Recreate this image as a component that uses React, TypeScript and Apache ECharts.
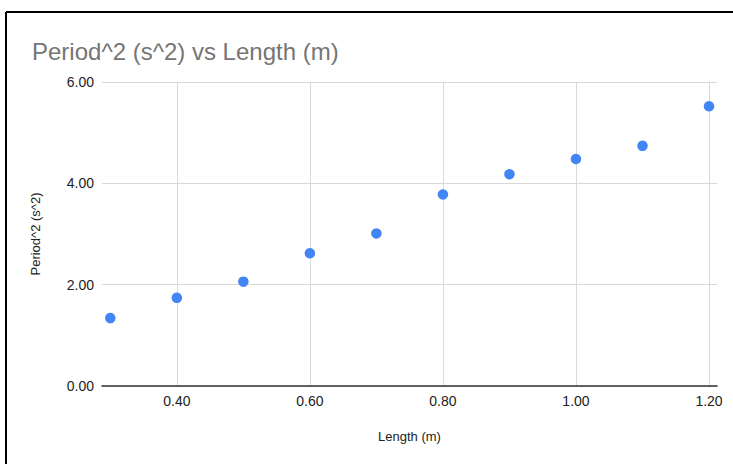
import React, { useEffect, useRef } from "react";
import * as echarts from "echarts";

const lengths = [0.3, 0.4, 0.5, 0.6, 0.7, 0.8, 0.9, 1.0, 1.1, 1.2];
const periodSquared = [1.34, 1.74, 2.06, 2.62, 3.01, 3.78, 4.18, 4.48, 4.74, 5.52];
const titleText = "Period^2 (s^2) vs Length (m)";
const xName = "Length (m)";
const yName = "Period^2 (s^2)";

export default function App() {
  const ref = useRef<HTMLDivElement>(null);
  useEffect(() => {
    document.body.style.margin = "0";
    if (!ref.current) return;
    const chart = echarts.init(ref.current, null, { renderer: "svg" });
    const font = "'Liberation Sans', Arial, Helvetica, sans-serif";
    chart.setOption({
      animation: false,
      backgroundColor: "#ffffff",
      title: {
        text: titleText,
        left: 27,
        top: 34,
        textStyle: { fontFamily: font, fontSize: 24, fontWeight: "normal", color: "#757575" },
      },
      grid: { left: 102, right: 16, top: 82, bottom: 78, containLabel: false },
      xAxis: {
        type: "value",
        min: 0.2875,
        max: 1.212,
        splitNumber: 5,
        name: xName,
        nameLocation: "middle",
        nameGap: 44,
        nameTextStyle: { fontFamily: font, fontSize: 13, color: "#222222" },
        axisLine: { show: true, onZero: false, lineStyle: { color: "#333333", width: 1.5 } },
        axisTick: { show: false },
        axisLabel: {
          fontFamily: font,
          fontSize: 14,
          color: "#222222",
          margin: 8,
          showMinLabel: false,
          showMaxLabel: false,
          formatter: (v: number) => v.toFixed(2),
        },
        splitLine: { show: true, showMinLine: false, showMaxLine: false, lineStyle: { color: "#d9d9d9", width: 1 } },
      },
      yAxis: {
        type: "value",
        min: 0,
        max: 6,
        interval: 2,
        name: yName,
        nameLocation: "middle",
        nameGap: 60,
        nameTextStyle: { fontFamily: font, fontSize: 13, color: "#222222" },
        axisLine: { show: false },
        axisTick: { show: false },
        axisLabel: {
          fontFamily: font,
          fontSize: 14,
          color: "#222222",
          margin: 8,
          formatter: (v: number) => v.toFixed(2),
        },
        splitLine: { show: true, lineStyle: { color: "#d9d9d9", width: 1 } },
      },
      series: [
        {
          type: "scatter",
          data: lengths.map((x, i) => [x, periodSquared[i]]),
          symbolSize: 10.5,
          itemStyle: { color: "#4285f4", opacity: 1 },
        },
      ],
      graphic: [
        { type: "line", shape: { x1: 6, y1: 12, x2: 733, y2: 12 }, style: { stroke: "#000000", lineWidth: 2 } },
        { type: "line", shape: { x1: 6, y1: 12, x2: 6, y2: 464 }, style: { stroke: "#000000", lineWidth: 2 } },
      ],
    });
    return () => chart.dispose();
  }, []);
  return <div ref={ref} style={{ width: 733, height: 464 }} />;
}
